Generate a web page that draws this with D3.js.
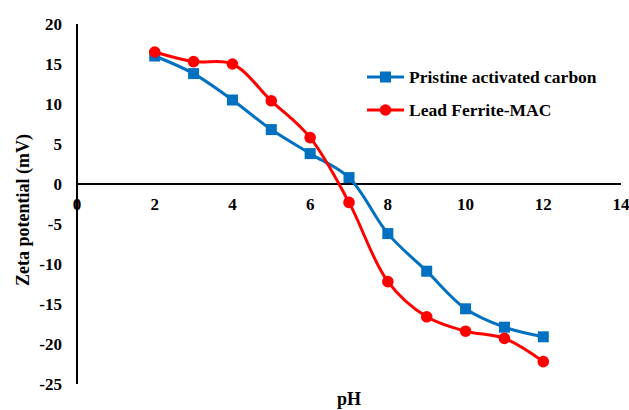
<!DOCTYPE html>
<html>
<head>
<meta charset="utf-8">
<script src="https://cdn.jsdelivr.net/npm/d3@7"></script>
<style>
  body { margin: 0; background: #fff; }
  svg text { font-family: "Liberation Serif", "DejaVu Serif", "Times New Roman", serif; font-weight: bold; fill: #000; }
</style>
</head>
<body>
<div id="chart"></div>
<script>
// data
const phValues = [2, 3, 4, 5, 6, 7, 8, 9, 10, 11, 12];
const pristine = [16.0, 13.8, 10.5, 6.8, 3.8, 0.8, -6.2, -10.9, -15.6, -17.9, -19.1];
const leadFerrite = [16.5, 15.3, 15.0, 10.4, 5.8, -2.3, -12.2, -16.6, -18.4, -19.3, -22.2];
const xTicks = [0, 2, 4, 6, 8, 10, 12, 14];
const yTicks = [20, 15, 10, 5, 0, -5, -10, -15, -20, -25];

const W = 629, H = 410;
const margin = { left: 77, right: 8, top: 24, bottom: 26 };

const svg = d3.select("#chart").append("svg")
    .attr("width", W)
    .attr("height", H);

const x = d3.scaleLinear().domain([0, 14]).range([margin.left, W - margin.right]);
const y = d3.scaleLinear().domain([-25, 20]).range([H - margin.bottom, margin.top]);

// y axis line
svg.append("line")
    .attr("x1", x(0)).attr("x2", x(0))
    .attr("y1", y(20)).attr("y2", y(-25))
    .attr("stroke", "#000").attr("stroke-width", 2);

// x axis line at zero
svg.append("line")
    .attr("x1", x(0)).attr("x2", x(14))
    .attr("y1", y(0)).attr("y2", y(0))
    .attr("stroke", "#000").attr("stroke-width", 2);

// y tick labels
svg.selectAll(".ylab").data(yTicks).enter().append("text")
    .attr("class", "ylab")
    .attr("x", x(0) - 15)
    .attr("y", d => y(d))
    .attr("dy", "0.35em")
    .attr("text-anchor", "end")
    .style("font-size", "17px")
    .text(d => d);

// x tick labels, just under the zero line
svg.selectAll(".xlab").data(xTicks).enter().append("text")
    .attr("class", "xlab")
    .attr("x", d => x(d))
    .attr("y", y(0) + 20)
    .attr("dy", "0.35em")
    .attr("text-anchor", "middle")
    .style("font-size", "17px")
    .text(d => d);

// axis titles
svg.append("text")
    .attr("transform", "translate(29,210) rotate(-90)")
    .attr("text-anchor", "middle")
    .style("font-size", "18px")
    .text("Zeta potential (mV)");

svg.append("text")
    .attr("x", 349)
    .attr("y", 405)
    .attr("text-anchor", "middle")
    .style("font-size", "18px")
    .text("pH");

const line = d3.line()
    .x(d => x(d[0]))
    .y(d => y(d[1]))
    .curve(d3.curveCatmullRom.alpha(0.5));

const series = [
    { name: "Pristine activated carbon", values: pristine, color: "#0070C0", shape: "square" },
    { name: "Lead Ferrite-MAC", values: leadFerrite, color: "#FF0000", shape: "circle" }
];

function drawMarker(g, shape, color, cx, cy) {
    if (shape == "square") {
        g.append("rect")
            .attr("x", cx - 5.5).attr("y", cy - 5.5)
            .attr("width", 11).attr("height", 11)
            .attr("fill", color);
    } else {
        g.append("circle")
            .attr("cx", cx).attr("cy", cy)
            .attr("r", 5.8)
            .attr("fill", color);
    }
}

series.forEach(s => {
    const pts = phValues.map((p, i) => [p, s.values[i]]);
    svg.append("path")
        .datum(pts)
        .attr("fill", "none")
        .attr("stroke", s.color)
        .attr("stroke-width", 3)
        .attr("d", line);
    const g = svg.append("g");
    pts.forEach(p => drawMarker(g, s.shape, s.color, x(p[0]), y(p[1])));
});

// legend
const legend = svg.append("g").attr("transform", "translate(367,77)");
series.forEach((s, i) => {
    const row = legend.append("g").attr("transform", "translate(0," + (i * 33) + ")");
    row.append("line")
        .attr("x1", 0).attr("x2", 37)
        .attr("y1", 0).attr("y2", 0)
        .attr("stroke", s.color).attr("stroke-width", 3);
    drawMarker(row, s.shape, s.color, 18.5, 0);
    row.append("text")
        .attr("x", 42)
        .attr("y", 0)
        .attr("dy", "0.35em")
        .style("font-size", "17.5px")
        .text(s.name);
});
</script>
</body>
</html>
